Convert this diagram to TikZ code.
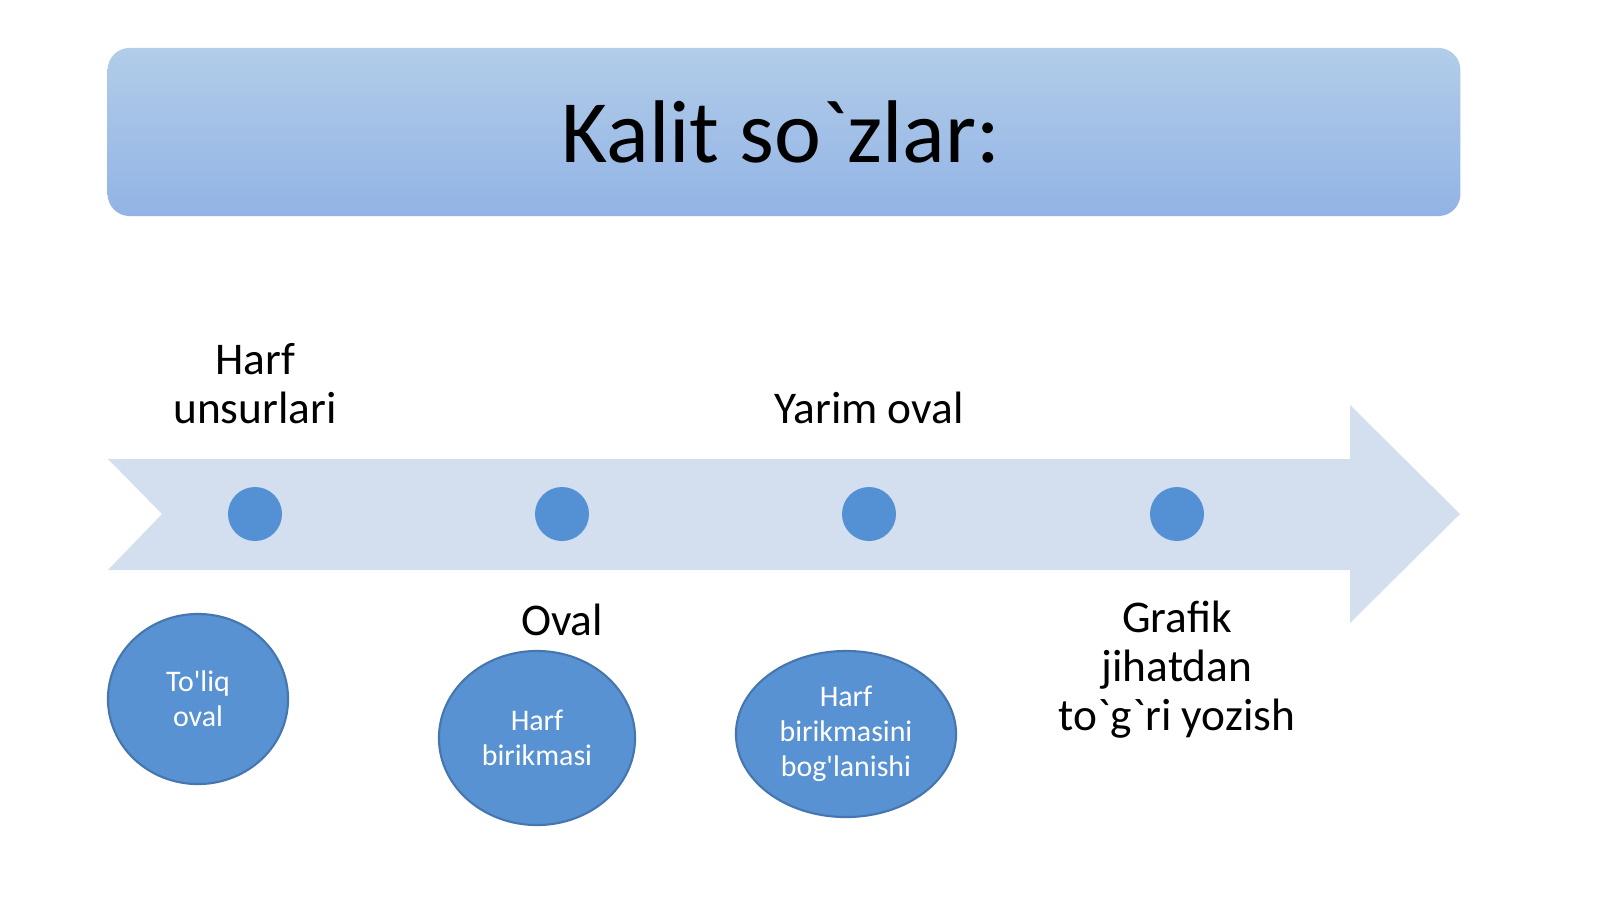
\documentclass[tikz,border=0pt]{standalone}
\usepackage{fontspec}
\setmainfont{Carlito}[Ligatures=TeXOff]
\usetikzlibrary{shapes.geometric}
\definecolor{titletop}{RGB}{178,205,233}
\definecolor{titlebot}{RGB}{146,179,229}
\definecolor{arrowc}{RGB}{211,223,239}
\definecolor{dotc}{RGB}{84,145,212}
\definecolor{ellc}{RGB}{88,146,210}
\definecolor{elld}{RGB}{70,118,175}
\tikzset{
  dotnode/.style={circle,fill=dotc,minimum size=0.54cm,inner sep=0},
  lbl/.style={align=center,font=\fontsize{12.9}{13.9}\selectfont,text=black,inner sep=0},
  ell/.style={ellipse,fill=ellc,draw=elld,line width=0.6pt,inner sep=0,align=center,text=white,font=\fontsize{8.5}{9.9}\selectfont},
}
\begin{document}
\begin{tikzpicture}[x=0.01cm,y=-0.01cm]
\useasboundingbox (0,0) rectangle (1600,899);
\fill[white] (0,0) rectangle (1600,899);
% title
\node[rounded corners=0.22cm,top color=titletop,bottom color=titlebot,minimum width=13.52cm,minimum height=1.68cm,inner sep=0] (title) at (784,132) {};
\node[font=\fontsize{25.3}{30}\selectfont,inner sep=0] (titletext) at (781,132) {Kalit so`zlar:};
% arrow
\fill[arrowc] (108,459) -- (1350,459) -- (1350,405) -- (1460,514) -- (1350,623) -- (1350,570) -- (108,570) -- (162,514) -- cycle;
% dots
\node[dotnode] (d1) at (255,514) {};
\node[dotnode] (d2) at (562,514) {};
\node[dotnode] (d3) at (869,514) {};
\node[dotnode] (d4) at (1177,514) {};
% labels
\node[lbl] (l1) at (255,384) {Harf\\unsurlari};
\node[lbl] (l3) at (869,408) {Yarim oval};
\node[lbl] (l2) at (562,620) {Oval};
\node[lbl] (l4) at (1177,670) {Grafik\\jihatdan\\to`g`ri yozish};
% ellipses
\node[ell,minimum width=1.80cm,minimum height=1.70cm] (e1) at (198,699) {To'liq\\oval};
\node[ell,minimum width=1.96cm,minimum height=1.74cm] (e2) at (537,738) {Harf\\birikmasi};
\node[ell,minimum width=2.20cm,minimum height=1.66cm] (e3) at (846,734) {Harf\\birikmasini\\bog'lanishi};
\end{tikzpicture}
\end{document}
